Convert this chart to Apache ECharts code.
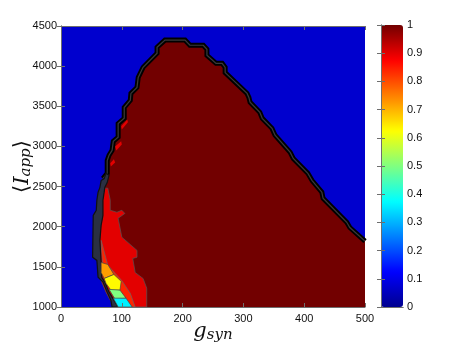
<!DOCTYPE html>
<html>
<head>
<meta charset="utf-8">
<script src="https://cdn.jsdelivr.net/npm/echarts@6/dist/echarts.min.js"></script>
<style>
  html, body { margin: 0; padding: 0; background: #fff; }
  #chart { width: 466px; height: 346px; }
</style>
</head>
<body>
<div id="chart"></div>
<script>
// axis ranges
const xRange = [0, 500]
const yRange = [1000, 4500]

// level-1 region boundary (crest contour), bottom-left -> top -> right edge
const edgeX = [94, 81, 74, 67, 64, 63, 56, 56, 63, 64, 64, 67, 69, 76, 76, 79, 84, 86, 94, 94, 104, 104, 114, 115, 125, 127, 135, 158, 158, 171, 204, 212, 234, 240, 240, 255, 265, 270, 270, 306, 309, 311, 327, 331, 347, 352, 377, 382, 406, 413, 429, 431, 470, 475, 500]
const edgeY = [1000, 1085, 1185, 1310, 1370, 1555, 1620, 2140, 2205, 2330, 2415, 2490, 2600, 2665, 2825, 2890, 2950, 3065, 3115, 3285, 3350, 3485, 3575, 3660, 3735, 3860, 3985, 4160, 4235, 4325, 4325, 4260, 4260, 4210, 4135, 4035, 4035, 3985, 3920, 3660, 3610, 3550, 3425, 3350, 3225, 3140, 2925, 2850, 2665, 2575, 2430, 2355, 2055, 1990, 1820]

// lower-left transition zone
const redX = [69, 77, 81, 81, 92, 100, 105, 94, 100, 125, 125, 118, 122, 135, 141, 141, 94, 81, 74, 67, 64, 63, 61, 64]
const redY = [2480, 2480, 2330, 2205, 2180, 2205, 2165, 2105, 1870, 1705, 1620, 1605, 1430, 1355, 1235, 1000, 1000, 1085, 1185, 1310, 1370, 1555, 2140, 2330]
const oredX = [66, 77, 100, 114, 122, 100, 92, 84, 77, 71, 69, 67]
const oredY = [1830, 1520, 1330, 1170, 1000, 1000, 1085, 1185, 1295, 1380, 1495, 1670]
const orangeX = [66, 77, 87, 71, 66]
const orangeY = [1555, 1530, 1405, 1355, 1430]
const yellowX = [71, 87, 99, 97, 82, 74]
const yellowY = [1355, 1405, 1320, 1210, 1210, 1295]
const greenX = [79, 97, 107, 89]
const greenY = [1220, 1210, 1110, 1095]
const cyanX = [86, 107, 117, 94]
const cyanY = [1110, 1110, 1000, 1000]
// bunched contour lines along the lower-left edge
const bandX = [74, 71, 66, 64, 61, 59, 58, 53, 52, 59, 61, 69, 76, 82, 84, 94, 87, 79, 72, 67, 66, 64, 66, 69, 69, 71, 72, 76, 79]
const bandY = [2665, 2600, 2575, 2490, 2430, 2330, 2205, 2140, 1620, 1580, 1370, 1310, 1185, 1085, 1000, 1000, 1085, 1185, 1310, 1370, 1555, 1830, 2015, 2140, 2330, 2430, 2490, 2550, 2640]
// small 0.9 cells next to the crest
const patchAX = [99, 109, 110, 100]
const patchAY = [3250, 3335, 3300, 3210]
const patchBX = [89, 99, 100, 91]
const patchBY = [3000, 3065, 3025, 2950]
const patchCX = [81, 87, 89, 82]
const patchCY = [2790, 2840, 2800, 2750]

// levels of each filled region
const levelBg = 0.07
const levelTop = 1
const levelRed = 0.9
const levelOred = 0.84
const levelOrange = 0.72
const levelYellow = 0.63
const levelGreen = 0.5
const levelCyan = 0.36

const xTicks = [0, 100, 200, 300, 400, 500]
const yTicks = [1000, 1500, 2000, 2500, 3000, 3500, 4000, 4500]
const cbTicks = [0, 0.1, 0.2, 0.3, 0.4, 0.5, 0.6, 0.7, 0.8, 0.9, 1]

const jet = ['#00008f', '#0000ff', '#0080ff', '#00ffff', '#80ff80', '#ffff00', '#ff8000', '#ff0000', '#720000']
const font = 'Liberation Sans, Arial, sans-serif'
const serif = 'DejaVu Serif, Liberation Serif, serif'

function region(xs, ys, level, stroke) {
  return {
    type: 'custom',
    xAxisIndex: 0,
    yAxisIndex: 0,
    silent: true,
    data: [[level]],
    renderItem(params, api) {
      return {
        type: 'polygon',
        shape: { points: xs.map((x, i) => api.coord([x, ys[i]])) },
        style: { fill: api.visual('color'), stroke: stroke || null, lineWidth: stroke ? 0.7 : 0 }
      }
    }
  }
}

function line(xs, ys, from) {
  return {
    type: 'custom',
    xAxisIndex: 0,
    yAxisIndex: 0,
    silent: true,
    data: [[0]],
    renderItem(params, api) {
      const pts = xs.slice(from).map((x, i) => api.coord([x, ys[i + from]]))
      return {
        type: 'group',
        children: [
          { type: 'polyline', shape: { points: pts }, style: { stroke: '#000', lineWidth: 5, fill: null, lineJoin: 'miter' } },
          { type: 'polyline', shape: { points: pts }, style: { stroke: '#3a3a3a', lineWidth: 1.2, fill: null } }
        ]
      }
    }
  }
}

function band(xs, ys) {
  return {
    type: 'custom',
    xAxisIndex: 0,
    yAxisIndex: 0,
    silent: true,
    data: [[0]],
    renderItem(params, api) {
      return {
        type: 'polygon',
        shape: { points: xs.map((x, i) => api.coord([x, ys[i]])) },
        style: { fill: '#2a3042', stroke: '#111', lineWidth: 1.2 }
      }
    }
  }
}

const series = [
  region([xRange[0], xRange[1], xRange[1], xRange[0]], [yRange[0], yRange[0], yRange[1], yRange[1]], levelBg),
  region(edgeX.concat([xRange[1]]), edgeY.concat([yRange[0]]), levelTop),
  region(redX, redY, levelRed, '#555'),
  region(oredX, oredY, levelOred, '#666'),
  line(edgeX, edgeY, 12),
  band(bandX, bandY),
  region(orangeX, orangeY, levelOrange, '#444'),
  region(yellowX, yellowY, levelYellow, '#444'),
  region(greenX, greenY, levelGreen, '#444'),
  region(cyanX, cyanY, levelCyan, '#444'),
  region(patchAX, patchAY, levelRed),
  region(patchBX, patchBY, levelRed),
  region(patchCX, patchCY, levelRed)
]
const mapped = [0, 1, 2, 3, 6, 7, 8, 9, 10, 11, 12]

const frame = { lineStyle: { color: '#6e6e6e', width: 1 } }
const tick = { inside: true, length: 4, lineStyle: { color: '#6e6e6e' } }
const lbl = { color: '#111', fontSize: 11, fontFamily: font }

const chart = echarts.init(document.getElementById('chart'))
chart.setOption({
  animation: false,
  backgroundColor: '#fff',
  grid: [
    { left: 61, top: 26, width: 304, height: 281, outerBoundsMode: 'none', containLabel: false },
    { left: 381, top: 25, width: 22, height: 282, outerBoundsMode: 'none', containLabel: false }
  ],
  xAxis: [
    {
      type: 'value', gridIndex: 0, min: xRange[0], max: xRange[1], interval: 100, z: 10,
      axisLine: frame, axisTick: tick, splitLine: { show: false },
      axisLabel: Object.assign({ margin: 6, formatter: v => xTicks.includes(v) ? String(v) : '' }, lbl),
      name: '{g|g}{s|syn}', nameLocation: 'middle', nameGap: 14, nameMoveOverlap: false,
      nameTextStyle: {
        rich: {
          g: { fontSize: 21, fontStyle: 'italic', fontFamily: serif, color: '#111', verticalAlign: 'middle', lineHeight: 22 },
          s: { fontSize: 15, fontStyle: 'italic', fontFamily: serif, color: '#111', verticalAlign: 'bottom', lineHeight: 12 }
        }
      }
    },
    {
      type: 'value', gridIndex: 0, position: 'top', min: xRange[0], max: xRange[1], interval: 100, z: 10,
      axisLine: frame, axisTick: tick, axisLabel: { show: false }, splitLine: { show: false }
    },
    {
      type: 'value', gridIndex: 1, min: 0, max: 1, z: 10,
      axisLine: frame, axisTick: { show: false }, axisLabel: { show: false }, splitLine: { show: false }
    },
    {
      type: 'value', gridIndex: 1, position: 'top', min: 0, max: 1, z: 10,
      axisLine: frame, axisTick: { show: false }, axisLabel: { show: false }, splitLine: { show: false }
    }
  ],
  yAxis: [
    {
      type: 'value', gridIndex: 0, min: yRange[0], max: yRange[1], interval: 500, z: 10,
      axisLine: frame, axisTick: tick, splitLine: { show: false },
      axisLabel: Object.assign({ margin: 4, formatter: v => yTicks.includes(v) ? String(v) : '' }, lbl),
      name: '{b|⟨}{i|I}{s|app}{b|⟩}', nameLocation: 'middle', nameGap: 27, nameMoveOverlap: false,
      nameTextStyle: {
        rich: {
          b: { fontSize: 21, fontFamily: serif, color: '#111', verticalAlign: 'middle', lineHeight: 22 },
          i: { fontSize: 21, fontStyle: 'italic', fontFamily: serif, color: '#111', verticalAlign: 'middle', lineHeight: 22 },
          s: { fontSize: 15, fontStyle: 'italic', fontFamily: serif, color: '#111', verticalAlign: 'bottom', lineHeight: 12 }
        }
      }
    },
    {
      type: 'value', gridIndex: 0, position: 'right', min: yRange[0], max: yRange[1], interval: 500, z: 10,
      axisLine: frame, axisTick: tick, axisLabel: { show: false }, splitLine: { show: false }
    },
    {
      type: 'value', gridIndex: 1, min: 0, max: 1, interval: 0.1, z: 10,
      axisLine: frame, axisTick: tick, axisLabel: { show: false }, splitLine: { show: false }
    },
    {
      type: 'value', gridIndex: 1, position: 'right', min: 0, max: 1, interval: 0.1, z: 10,
      axisLine: frame, axisTick: tick, splitLine: { show: false },
      axisLabel: Object.assign({ margin: 4, formatter: v => cbTicks.some(t => Math.abs(t - v) < 1e-9) ? String(+v.toFixed(1)) : '' }, lbl)
    }
  ],
  visualMap: {
    type: 'continuous', min: 0, max: 1, dimension: 0, seriesIndex: mapped,
    inRange: { color: jet }, calculable: false, hoverLink: false, realtime: false,
    left: 381, top: 25, itemWidth: 22, itemHeight: 282, padding: 0, text: null, showLabel: false
  },
  series
})
</script>
</body>
</html>
